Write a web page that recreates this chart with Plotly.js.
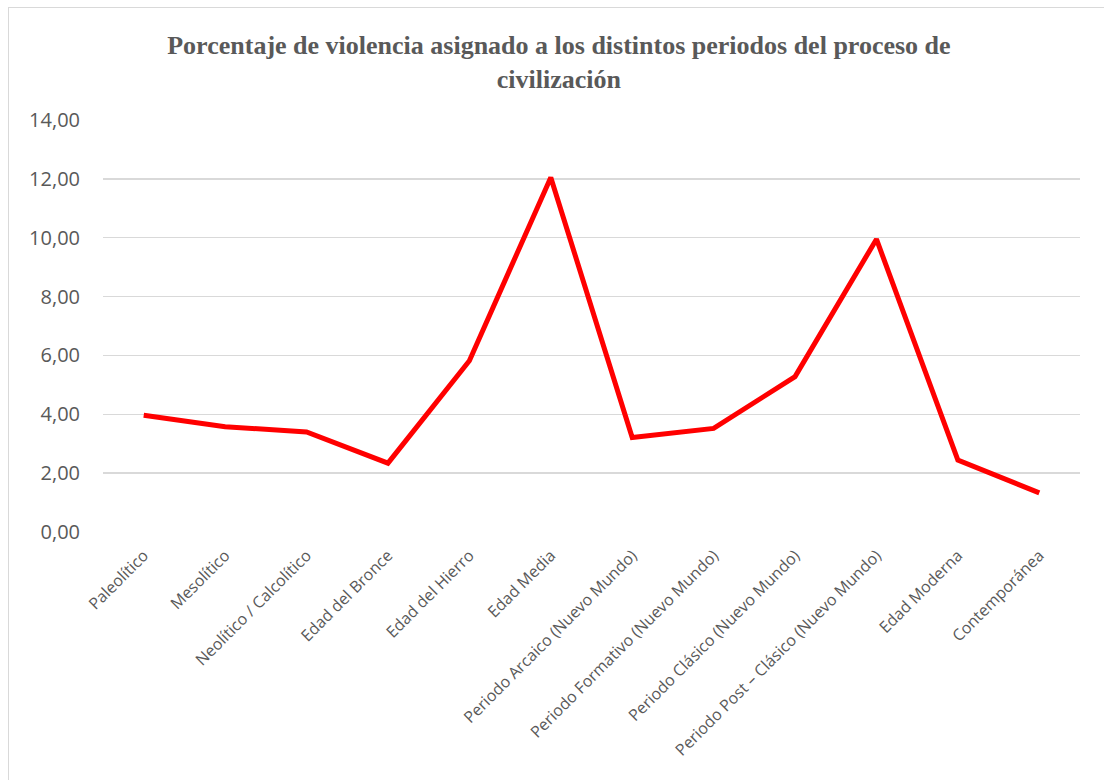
<!DOCTYPE html>
<html>
<head>
<meta charset="utf-8">
<script src="https://cdn.plot.ly/plotly-3.0.1.min.js"></script>
<style>
  html, body { margin: 0; padding: 0; background: #ffffff; width: 1104px; height: 780px; overflow: hidden; }
  #frame { position: absolute; left: 8px; top: 7px; width: 1110px; height: 790px; border: 1px solid #d9d9d9; box-sizing: border-box; }
  #chart { width: 1089px; height: 773px; }
</style>
</head>
<body>
<div id="frame"><div id="chart"></div></div>
<script>
const categories = [
  "Paleolítico",
  "Mesolítico",
  "Neolítico / Calcolítico",
  "Edad del Bronce",
  "Edad del Hierro",
  "Edad Media",
  "Periodo Arcaico (Nuevo Mundo)",
  "Periodo Formativo (Nuevo Mundo)",
  "Periodo Clásico (Nuevo Mundo)",
  "Periodo Post – Clásico (Nuevo Mundo)",
  "Edad Moderna",
  "Contemporánea"
];
const values = [3.97, 3.58, 3.40, 2.34, 5.82, 12.05, 3.21, 3.52, 5.28, 9.95, 2.44, 1.33];
const yTicks = [0, 2, 4, 6, 8, 10, 12, 14];

const trace = {
  type: "scatter",
  mode: "lines",
  x: categories,
  y: values,
  line: { color: "#ff0000", width: 5, shape: "linear" },
  hoverinfo: "x+y"
};

const layout = {
  width: 1089,
  height: 773,
  paper_bgcolor: "#ffffff",
  plot_bgcolor: "#ffffff",
  separators: ",.",
  showlegend: false,
  margin: { l: 94, r: 18, t: 112, b: 249 },
  title: {
    text: "<b>Porcentaje de violencia asignado a los distintos periodos del proceso de<br>civilización</b>",
    font: { family: "Liberation Serif, Times New Roman, serif", size: 26, color: "#595959" },
    x: 0.505,
    xref: "container",
    xanchor: "center",
    y: 0.94,
    yref: "container",
    yanchor: "top"
  },
  xaxis: {
    type: "category",
    range: [-0.5, 11.5],
    tickangle: -45,
    showgrid: false,
    zeroline: false,
    showline: false,
    ticks: "",
    ticklabelstandoff: 10,
    tickfont: { family: "Open Sans, sans-serif", size: 16, color: "#595959" },
    automargin: false
  },
  yaxis: {
    range: [0, 14],
    tickvals: yTicks,
    tickformat: ".2f",
    showgrid: true,
    gridcolor: "#d9d9d9",
    gridwidth: 1.3,
    zeroline: false,
    showline: false,
    ticks: "",
    ticklabelstandoff: 22,
    tickfont: { family: "Open Sans, sans-serif", size: 20, color: "#595959" },
    automargin: false
  }
};

Plotly.newPlot("chart", [trace], layout, { displayModeBar: false, staticPlot: true });
</script>
</body>
</html>
